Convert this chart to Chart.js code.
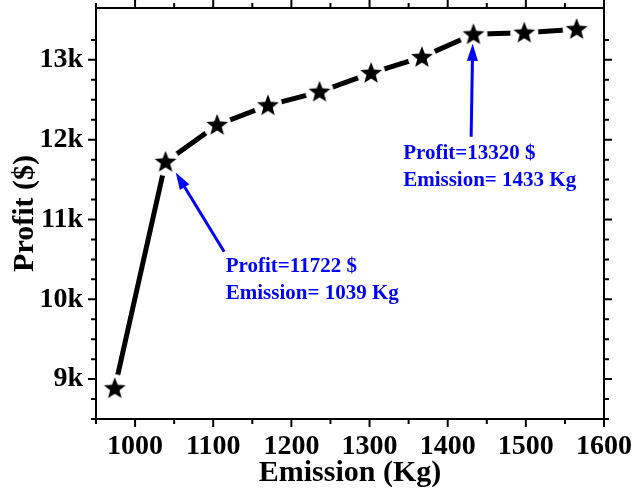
<!DOCTYPE html>
<html>
<head>
<meta charset="utf-8">
<title>Profit vs Emission</title>
<script src="https://cdn.jsdelivr.net/npm/chart.js@4.4.0/dist/chart.umd.min.js"></script>
<style>
  body { margin: 0; background: #fff; }
  canvas { display: block; }
</style>
</head>
<body>
<canvas id="myChart" width="632" height="490"></canvas>
<script>
// pareto points: emission (Kg) against profit ($)
const emission = [974, 1039, 1105, 1170, 1236, 1302, 1367, 1433, 1498, 1565];
const profit = [8885, 11722, 12185, 12430, 12600, 12835, 13035, 13320, 13340, 13385];

// labelled points with their arrows, in data units
const noteText = [
  ['Profit=11722 $', 'Emission= 1039 Kg'],
  ['Profit=13320 $', 'Emission= 1433 Kg']
];
const noteAt = [[1116, 10412], [1343, 11830]];
const arrowFrom = [[1114, 10596], [1430, 12036]];
const arrowTo = [[1052, 11588], [1432, 13201]];

const serif = "'Liberation Serif', 'Times New Roman', serif";
var ctx = document.getElementById("myChart");

// filled star sitting on a white disc, so the line stops short of each symbol
function makeStar() {
    var c = document.createElement('canvas');
    c.width = 32; c.height = 32;
    var g = c.getContext('2d');
    g.fillStyle = '#fff';
    g.beginPath();
    g.arc(16, 16, 14, 0, Math.PI * 2);
    g.fill();
    g.fillStyle = '#000';
    g.beginPath();
    for (var i = 0; i < 10; i++) {
        var r = i % 2 === 0 ? 11.5 : 4.9;
        var a = -Math.PI / 2 + i * Math.PI / 5;
        var px = 16 + r * Math.cos(a), py = 16.5 + r * Math.sin(a);
        if (i === 0) g.moveTo(px, py); else g.lineTo(px, py);
    }
    g.closePath();
    g.fill();
    return c;
}

function drawArrow(g, x0, y0, x1, y1) {
    var ang = Math.atan2(y1 - y0, x1 - x0);
    var head = 17, half = 5.5;
    var bx = x1 - head * Math.cos(ang), by = y1 - head * Math.sin(ang);
    g.lineWidth = 3;
    g.beginPath();
    g.moveTo(x0, y0);
    g.lineTo(bx, by);
    g.stroke();
    g.beginPath();
    g.moveTo(x1, y1);
    g.lineTo(bx + half * Math.sin(ang), by - half * Math.cos(ang));
    g.lineTo(bx - half * Math.sin(ang), by + half * Math.cos(ang));
    g.closePath();
    g.fill();
}

// box frame, mirrored tick marks and the blue call-outs
const frame = {
    id: 'frame',
    afterDraw(chart) {
        const g = chart.ctx, a = chart.chartArea;
        const x = chart.scales.x, y = chart.scales.y;
        g.save();
        g.strokeStyle = '#000';
        g.lineWidth = 2;
        g.strokeRect(a.left, a.top, a.right - a.left, a.bottom - a.top);

        g.beginPath();
        x.ticks.forEach(t => {
            if (t.value % 50 !== 0) return;
            const px = x.getPixelForValue(t.value);
            const len = t.value % 100 === 0 ? 8 : 5;
            g.moveTo(px, a.bottom); g.lineTo(px, a.bottom + len);
            g.moveTo(px, a.top); g.lineTo(px, a.top - len);
        });
        y.ticks.forEach(t => {
            if (t.value % 250 !== 0) return;
            const py = y.getPixelForValue(t.value);
            const len = t.value % 1000 === 0 ? 8 : 5;
            g.moveTo(a.left, py); g.lineTo(a.left - len, py);
            g.moveTo(a.right, py); g.lineTo(a.right + len, py);
        });
        g.stroke();

        g.fillStyle = '#0000ff';
        g.strokeStyle = '#0000ff';
        for (var i = 0; i < noteText.length; i++) {
            drawArrow(g,
                x.getPixelForValue(arrowFrom[i][0]), y.getPixelForValue(arrowFrom[i][1]),
                x.getPixelForValue(arrowTo[i][0]), y.getPixelForValue(arrowTo[i][1]));
            g.font = 'bold 21px ' + serif;
            g.textAlign = 'left';
            g.textBaseline = 'middle';
            const tx = x.getPixelForValue(noteAt[i][0]);
            const ty = y.getPixelForValue(noteAt[i][1]);
            noteText[i].forEach((line, k) => g.fillText(line, tx, ty + k * 27));
        }
        g.restore();
    }
};

const myChart = new Chart(ctx, {
    type: 'scatter',
    data: {
        datasets: [{
            data: emission.map((e, i) => ({ x: e, y: profit[i] })),
            showLine: true,
            borderColor: '#000',
            borderWidth: 5,
            borderCapStyle: 'round',
            pointStyle: makeStar(),
            pointRadius: 12,
            pointHoverRadius: 12
        }]
    },
    options: {
        responsive: false,
        animation: false,
        events: [],
        layout: { autoPadding: false, padding: { top: 8, right: 28, left: 0, bottom: 0 } },
        plugins: { legend: { display: false }, tooltip: { enabled: false } },
        scales: {
            x: {
                type: 'linear',
                min: 950,
                max: 1600,
                afterFit: s => {
                    s.height = 71;
                    s.paddingLeft = 0;
                    s.paddingRight = 0;
                },
                grid: { display: false, drawTicks: false },
                border: { display: false },
                ticks: {
                    stepSize: 50,
                    padding: 11,
                    color: '#000',
                    maxRotation: 0,
                    autoSkip: false,
                    font: { family: serif, size: 28, weight: 'bold' },
                    callback: v => v % 100 === 0 ? String(v) : ''
                },
                title: {
                    display: true,
                    text: 'Emission (Kg)',
                    color: '#000',
                    padding: { top: 0, bottom: 2 },
                    font: { family: serif, size: 30, weight: 'bold', lineHeight: 1 }
                }
            },
            y: {
                min: 8500,
                max: 13650,
                afterFit: s => {
                    s.width = 96;
                    s.paddingTop = 0;
                    s.paddingBottom = 0;
                },
                grid: { display: false, drawTicks: false },
                border: { display: false },
                ticks: {
                    stepSize: 250,
                    padding: 13,
                    color: '#000',
                    autoSkip: false,
                    font: { family: serif, size: 28, weight: 'bold' },
                    callback: v => v % 1000 === 0 ? (v / 1000) + 'k' : ''
                },
                title: {
                    display: true,
                    text: 'Profit ($)',
                    color: '#000',
                    padding: { top: 10, bottom: 0 },
                    font: { family: serif, size: 30, weight: 'bold', lineHeight: 1 }
                }
            }
        }
    },
    plugins: [frame]
});
</script>
</body>
</html>
